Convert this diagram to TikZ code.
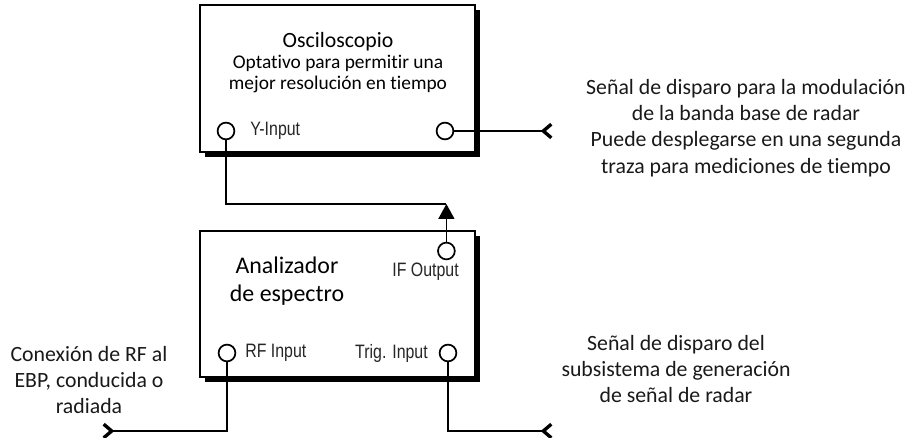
\documentclass[tikz,border=0pt]{standalone}
\usepackage{fontspec}
\setmainfont[Ligatures={NoCommon,NoRare,NoDiscretionary}, Contextuals={NoAlternate}]{Carlito}
\newfontfamily\narrowfont[FakeStretch=0.82]{Liberation Sans}
\usetikzlibrary{arrows.meta, shadows}

\begin{document}
\begin{tikzpicture}[
    box/.style={rectangle, draw, line width=1.2pt, fill=white, minimum width=6.875cm, minimum height=3.65cm,
        drop shadow={shadow xshift=0.12cm, shadow yshift=-0.12cm, fill=black, opacity=1}},
    port/.style={circle, draw, line width=1.2pt, fill=white, minimum size=0.42cm, inner sep=0pt},
    portlabel/.style={font=\narrowfont\fontsize{13.8pt}{15pt}\selectfont, inner sep=0pt, text=black!85},
    sidetext/.style={align=center, font=\fontsize{15.5pt}{18.6pt}\selectfont, text=black!90},
    wire/.style={line width=1.2pt},
    plug/.style={wire, -{Straight Barb[reversed, length=0.2cm, width=0.34cm, line width=2.4pt]}},
    feed/.style={wire, -{Triangle[length=0.375cm, width=0.4cm]}}
]
    \useasboundingbox (0,0) rectangle (22.675,-10.95);

    % Osciloscopio
    \node[box, minimum height=3.675cm] (osc) at (8.4375,-1.9625) {};
    \node[font=\fontsize{15.5pt}{18pt}\selectfont] (osc-title) at (8.45,-1.05) {Osciloscopio};
    \node[align=center, font=\fontsize{13.8pt}{15pt}\selectfont] (osc-note) at (8.45,-1.85)
        {Optativo para permitir una\\mejor resolución en tiempo};
    \node[port] (yin) at (5.65,-3.275) {};
    \node[portlabel, anchor=west] (yin-label) at (6.25,-3.275) {Y-Input};
    \node[port] (oscout) at (11.125,-3.275) {};

    % Analizador de espectro
    \node[box] (sa) at (8.4375,-7.6) {};
    \node[align=center, font=\fontsize{17pt}{20pt}\selectfont] (sa-title) at (7.175,-7.025)
        {Analizador\\de espectro};
    \node[port] (ifout) at (11.16,-6.275) {};
    \node[portlabel] (ifout-label) at (10.64,-6.8) {IF Output};
    \node[port] (rfin) at (5.675,-8.825) {};
    \node[portlabel, anchor=west] (rfin-label) at (6.125,-8.825) {RF Input};
    \node[port] (trigin) at (11.2,-8.825) {};
    \node[portlabel, anchor=east] (trigin-label) at (10.7,-8.825) {Trig. Input};

    % free ends and corners
    \coordinate (ifjoin) at (11.16,-5.1);
    \coordinate (yturn) at (5.65,-5.1);
    \coordinate (oscend) at (13.825,-3.275);
    \coordinate (rfturn) at (5.675,-10.775);
    \coordinate (rfend) at (2.55,-10.775);
    \coordinate (trigturn) at (11.2,-10.775);
    \coordinate (trigend) at (13.825,-10.775);

    % connectors
    \draw[feed] (ifout.north) -- (ifjoin);
    \draw[wire] (ifjoin) -- (yturn) -- (yin.south);
    \draw[plug] (oscout.east) -- (oscend);
    \draw[plug] (rfin.south) -- (rfturn) -- (rfend);
    \draw[plug] (trigin.south) -- (trigturn) -- (trigend);

    % notes
    \node[sidetext] (osc-trig) at (18.65,-3.2)
        {Señal de disparo para la modulación\\de la banda base de radar\\Puede desplegarse en una segunda\\traza para mediciones de tiempo};
    \node[sidetext] (sa-trig) at (16.9,-9.225)
        {Señal de disparo del\\subsistema de generación\\de señal de radar};
    \node[sidetext] (rf-note) at (2.225,-9.5)
        {Conexión de RF al\\EBP, conducida o\\radiada};
\end{tikzpicture}
\end{document}
